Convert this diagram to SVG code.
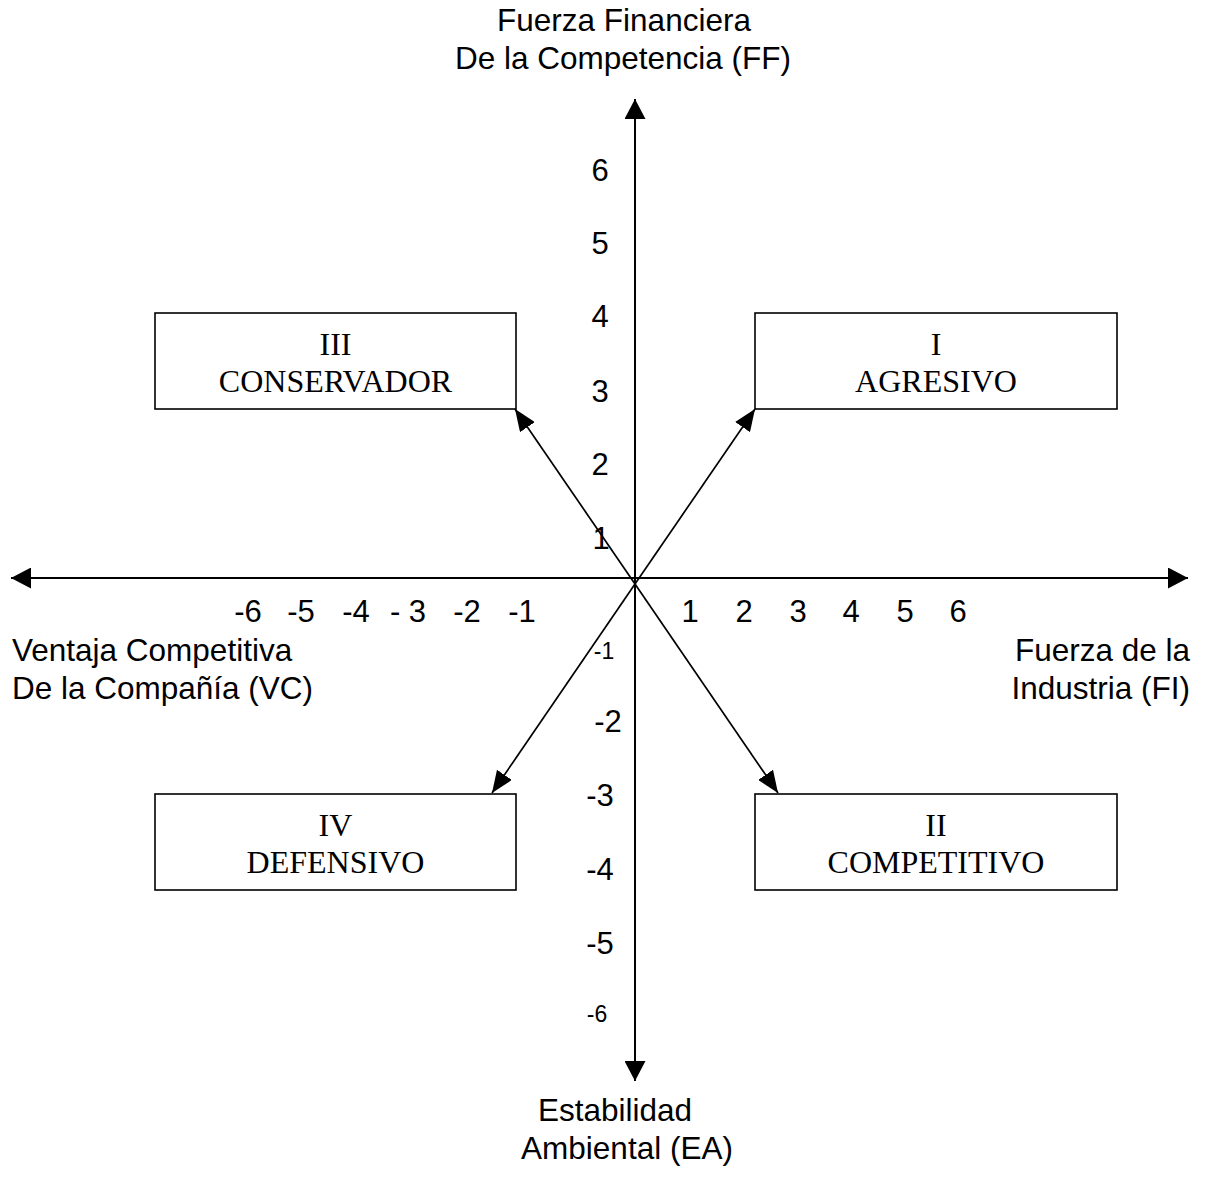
<svg xmlns="http://www.w3.org/2000/svg" width="1209" height="1177" viewBox="0 0 1209 1177">
<style>
  .lbl { font-family: "Liberation Sans", Arial, sans-serif; font-size: 31.5px; fill: #000; }
  .num { font-family: "Liberation Sans", Arial, sans-serif; font-size: 31px; fill: #000; text-anchor: middle; }
  .sm { font-family: "Liberation Sans", Arial, sans-serif; font-size: 23px; fill: #000; text-anchor: middle; }
  .box rect { fill: #fff; stroke: #000; stroke-width: 1.6; }
  .box text { font-family: "Liberation Serif", "Times New Roman", serif; font-size: 32px; fill: #000; text-anchor: middle; }
  .axis { stroke: #000; stroke-width: 2; fill: none; }
  .diag { stroke: #000; stroke-width: 1.7; fill: none; }
</style>
<defs>
  <marker id="ah" markerUnits="userSpaceOnUse" viewBox="0 0 20 21" refX="20" refY="10.5" markerWidth="20" markerHeight="21" orient="auto-start-reverse">
    <path d="M0,0 L20,10.5 L0,21 z" fill="#000"/>
  </marker>
  <marker id="dh" markerUnits="userSpaceOnUse" viewBox="0 0 22 18" refX="22" refY="9" markerWidth="22" markerHeight="18" orient="auto">
    <path d="M0,0 L22,9 L0,18 z" fill="#000"/>
  </marker>
</defs>
<rect width="1209" height="1177" fill="#fff"/>

<g id="connectors">
  <line class="axis" x1="635" y1="99" x2="635" y2="1081" marker-start="url(#ah)" marker-end="url(#ah)"/>
  <line class="axis" x1="11" y1="578" x2="1188" y2="578" marker-start="url(#ah)" marker-end="url(#ah)"/>
  <line class="diag" x1="635" y1="584" x2="755" y2="409" marker-end="url(#dh)"/>
  <line class="diag" x1="635" y1="584" x2="515" y2="409" marker-end="url(#dh)"/>
  <line class="diag" x1="635" y1="584" x2="492" y2="793" marker-end="url(#dh)"/>
  <line class="diag" x1="635" y1="584" x2="778" y2="793" marker-end="url(#dh)"/>
</g>

<g id="axis-labels">
  <text class="lbl" x="624" y="31" text-anchor="middle">Fuerza Financiera</text>
  <text class="lbl" x="623" y="69" text-anchor="middle">De la Competencia (FF)</text>
  <text class="lbl" x="12" y="661">Ventaja Competitiva</text>
  <text class="lbl" x="12" y="699">De la Compañía (VC)</text>
  <text class="lbl" x="1190" y="661" text-anchor="end">Fuerza de la</text>
  <text class="lbl" x="1190" y="699" text-anchor="end">Industria (FI)</text>
  <text class="lbl" x="615" y="1121" text-anchor="middle">Estabilidad</text>
  <text class="lbl" x="627" y="1159" text-anchor="middle">Ambiental (EA)</text>
</g>

<g id="ticks">
  <text class="num" x="248" y="622">-6</text>
  <text class="num" x="301" y="622">-5</text>
  <text class="num" x="356" y="622">-4</text>
  <text class="num" x="408" y="622">- 3</text>
  <text class="num" x="467" y="622">-2</text>
  <text class="num" x="522" y="622">-1</text>
  <text class="num" x="690" y="622">1</text>
  <text class="num" x="744" y="622">2</text>
  <text class="num" x="798" y="622">3</text>
  <text class="num" x="851" y="622">4</text>
  <text class="num" x="905" y="622">5</text>
  <text class="num" x="958" y="622">6</text>

  <text class="num" x="600" y="181">6</text>
  <text class="num" x="600" y="254">5</text>
  <text class="num" x="600" y="327">4</text>
  <text class="num" x="600" y="402">3</text>
  <text class="num" x="600" y="475">2</text>
  <text class="num" x="601" y="549">1</text>
  <text class="sm" x="604" y="659">-1</text>
  <text class="num" x="608" y="732">-2</text>
  <text class="num" x="600" y="806">-3</text>
  <text class="num" x="600" y="880">-4</text>
  <text class="num" x="600" y="954">-5</text>
  <text class="sm" x="597" y="1022">-6</text>
</g>

<g id="node-I" class="box">
  <rect x="755" y="313" width="362" height="96"/>
  <text x="936" y="355">I</text>
  <text x="936" y="392">AGRESIVO</text>
</g>
<g id="node-II" class="box">
  <rect x="755" y="794" width="362" height="96"/>
  <text x="936" y="836">II</text>
  <text x="936" y="873">COMPETITIVO</text>
</g>
<g id="node-III" class="box">
  <rect x="155" y="313" width="361" height="96"/>
  <text x="335.5" y="355">III</text>
  <text x="335.5" y="392">CONSERVADOR</text>
</g>
<g id="node-IV" class="box">
  <rect x="155" y="794" width="361" height="96"/>
  <text x="335.5" y="836">IV</text>
  <text x="335.5" y="873">DEFENSIVO</text>
</g>
</svg>
